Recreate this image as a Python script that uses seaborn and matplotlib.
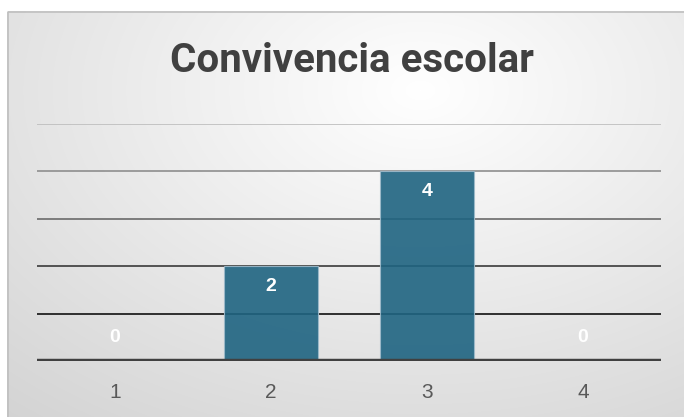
import numpy as np
import pandas as pd
import matplotlib
matplotlib.use("Agg")
import matplotlib.pyplot as plt
import matplotlib.patches as mpatches
import seaborn as sns

categories = ["1", "2", "3", "4"]
values = [0, 2, 4, 0]
title = "Convivencia escolar"
yticks = [0, 1, 2, 3, 4, 5]

sns.set_theme(style="white")
plt.rcParams['font.family'] = ['Liberation Sans', 'DejaVu Sans']

W, H = 684, 417
fig = plt.figure(figsize=(W / 100, H / 100), dpi=100, facecolor='white')

# background radial gradient inside the chart border
bg = fig.add_axes([0, 0, 1, 1], zorder=-10)
yy, xx = np.mgrid[0:H, 0:W]
r = np.sqrt(((xx - 420) / 600.0) ** 2 + ((yy - 90) / 400.0) ** 2)
v = np.clip(1.0 - 0.16 * r, 0, 1)
v[:11, :] = 1.0
v[:, :7] = 1.0
bg.imshow(np.dstack([v, v, v]), extent=[0, W, H, 0], aspect='auto', interpolation='bilinear')
bg.set_xlim(0, W)
bg.set_ylim(H, 0)
bg.axis('off')
bg.add_patch(mpatches.Rectangle((7.5, 11.5), W + 20, H + 20, fill=False,
                                edgecolor='#BFBFBF', linewidth=1.2))

ax = fig.add_axes([37 / W, (H - 361) / H, (661 - 37) / W, (361 - 124) / H])
ax.patch.set_alpha(0)

df = pd.DataFrame({"cat": categories, "val": values})
sns.barplot(data=df, x="cat", y="val", order=categories, color="#1F6481",
            width=0.6, saturation=1, alpha=0.9, edgecolor='#9DBACA',
            linewidth=0.8, ax=ax, zorder=3)

ax.set_xlim(-0.5, len(categories) - 0.5)
ax.set_ylim(0, 5)
grid_colors = {1: '#111111', 2: '#3A3A3A', 3: '#6A6A6A', 4: '#8E8E8E', 5: '#BDBDBD'}
for t in yticks[1:]:
    ax.axhline(t, color=grid_colors[t], linewidth=1.2, zorder=1)
ax.axhline(0, color='#404040', linewidth=3.2, zorder=4)

for s in ax.spines.values():
    s.set_visible(False)
ax.set_yticks([])
ax.set_xlabel("")
ax.set_ylabel("")
ax.tick_params(axis='x', length=0, pad=16, labelsize=15, labelcolor='#595959')

for i, val in enumerate(values):
    off = -20 if val > 0 else 24
    ax.annotate(str(val), (i, val), xytext=(0, off), textcoords='offset pixels',
                ha='center', va='center', color='white', fontsize=14,
                fontweight='bold', zorder=5)

fig.text(352 / W, 1 - 61 / H, title, ha='center', va='center',
         fontsize=29, fontweight='bold', color='#404040',
         family=['Liberation Sans Narrow', 'Roboto', 'DejaVu Sans'])

fig.savefig("out.png", dpi=100)
